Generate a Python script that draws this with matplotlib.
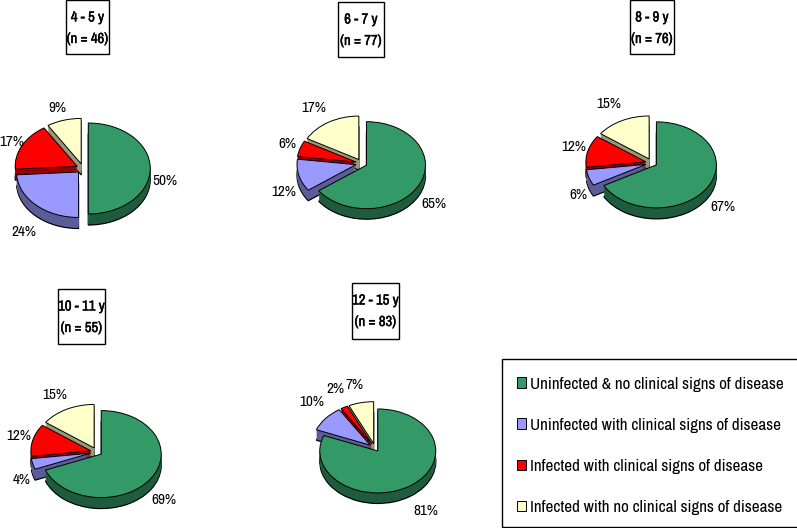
import matplotlib
matplotlib.use("Agg")
import matplotlib.pyplot as plt
import matplotlib.patheffects as pe
from matplotlib.patches import Patch, Rectangle
from matplotlib import font_manager as fm

# ---- data ----
categories = ["Uninfected & no clinical signs of disease",
              "Uninfected with clinical signs of disease",
              "Infected with clinical signs of disease",
              "Infected with no clinical signs of disease"]
age_groups = ["4 - 5 y", "6 - 7 y", "8 - 9 y", "10 - 11 y", "12 - 15 y"]
sample_sizes = [46, 77, 76, 55, 83]
values_4_5 = [50, 24, 17, 9]
values_6_7 = [65, 12, 6, 17]
values_8_9 = [67, 6, 12, 15]
values_10_11 = [69, 4, 12, 15]
values_12_15 = [81, 10, 2, 7]
all_values = [values_4_5, values_6_7, values_8_9, values_10_11, values_12_15]

# ---- style and layout (pixels) ----
W, H = 797, 528
top_colors = ["#339966", "#9999FF", "#FF0000", "#FFFFCC"]
side_colors = ["#1F5C3D", "#5C5C99", "#990000", "#99997A"]
explode = [0.085, 0.105, 0.105, 0.105]
geometry = [(83, 168.5, 62, 45.5, 11), (362, 163.5, 59, 43.5, 10.5),
            (652, 163, 60, 43, 11), (97, 452, 60, 43.5, 11), (375, 448, 58, 42, 10.5)]
boxes = [(66, 0, 109, 54), (338, 2, 384, 57), (630, 0, 674, 54),
         (58, 289, 105, 344), (352, 283, 399, 339)]
label_xy = [[(165, 181), (24, 232), (12, 142), (57, 108)],
            [(434, 204), (284, 192), (287, 144), (314, 108)],
            [(723, 207), (578, 195), (574, 147), (609, 104)],
            [(164, 500), (22, 480), (19, 436), (55, 395)],
            [(426, 511), (312, 402), (335, 389), (355, 385)]]
names = {f.name for f in fm.fontManager.ttflist}
font = next((f for f in ["Archivo Narrow", "PT Sans Narrow", "Liberation Sans Narrow",
                         "Roboto Condensed", "Liberation Sans"] if f in names))
plt.rcParams["font.family"] = [font, "DejaVu Sans"]

fig = plt.figure(figsize=(W / 100, H / 100), dpi=100, facecolor="white")

def px_axes(cx, cy, rx, ry, lim=1.6):
    return fig.add_axes([(cx - lim * rx) / W, 1 - (cy + lim * ry) / H,
                         2 * lim * rx / W, 2 * lim * ry / H])

for vals, (cx, cy, rx, ry, depth) in zip(all_values, geometry):
    ax = px_axes(cx, cy, rx, ry)
    n = int(round(depth))
    for k in range(n, 0, -1):
        off = -k * depth / n / ry
        wp = dict(edgecolor="black", linewidth=0.9) if k == n else dict(linewidth=0)
        ax.pie(vals, colors=side_colors, explode=explode, startangle=90,
               counterclock=False, center=(0, off), wedgeprops=wp)
    ax.pie(vals, colors=top_colors, explode=explode, startangle=90,
           counterclock=False, center=(0, 0),
           wedgeprops=dict(edgecolor="black", linewidth=0.7))
    ax.set_aspect("auto")
    ax.set_xlim(-1.6, 1.6)
    ax.set_ylim(-1.6, 1.6)

# overlay in pixel coordinates
ov = fig.add_axes([0, 0, 1, 1], zorder=10)
ov.set_xlim(0, W)
ov.set_ylim(H, 0)
ov.axis("off")

bold = [pe.withStroke(linewidth=0.3, foreground="black")]
for age, n, (x0, y0, x1, y1) in zip(age_groups, sample_sizes, boxes):
    ov.add_patch(Rectangle((x0, y0), x1 - x0, y1 - y0, fc="white", ec="black", lw=1, clip_on=False))
    xc = (x0 + x1) / 2
    for text, dy in ((age, 17.5), (f"(n = {n})", 39)):
        ov.text(xc, y0 + dy, text, ha="center", va="center", fontsize=10.5, path_effects=bold)

for vals, xy in zip(all_values, label_xy):
    for v, (x, y) in zip(vals, xy):
        ov.text(x, y, f"{v}%", ha="center", va="center", fontsize=11, clip_on=False)

ov.add_patch(Rectangle((502, 359), 296, 168, fc="white", ec="black", lw=1, clip_on=False))
handles = [Patch(facecolor=c, edgecolor="black", linewidth=0.7) for c in top_colors]
ov.legend(handles, categories, loc="lower left",
          bbox_to_anchor=(502 / W, -1.5 / H), fontsize=12.25,
          frameon=False, handlelength=0.55, handleheight=0.55, handletextpad=0.25,
          labelspacing=1.53, borderpad=0.87, borderaxespad=0)

fig.savefig("out.png", dpi=100)
